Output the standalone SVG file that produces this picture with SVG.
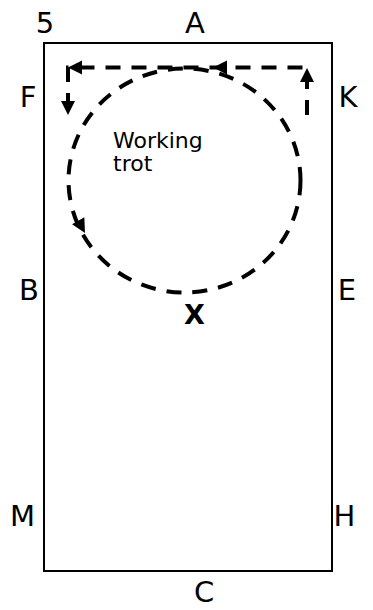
<svg xmlns="http://www.w3.org/2000/svg" xmlns:xlink="http://www.w3.org/1999/xlink" width="373" height="610" viewBox="0 0 373 610">
<style>
.lbl{font-family:"DejaVu Sans","Liberation Sans",sans-serif;font-size:29px;fill:#000;text-anchor:middle}
.x{font-weight:bold;font-size:27px}
.note{font-family:"DejaVu Sans","Liberation Sans",sans-serif;font-size:22px;fill:#000}
.arena{fill:#fff;stroke:#000;stroke-width:2}
.dash{fill:none;stroke:#000;stroke-width:4;stroke-dasharray:15 11}
.ah{fill:#000}
</style>
<defs>
<path id="ah" d="M0,0 L-14,-7 L-14,7 Z"/>
</defs>
<rect width="373" height="610" fill="#fff"/>
<g id="arena">
<rect class="arena" x="44" y="43" width="288" height="528"/>
</g>
<g id="labels">
<text class="lbl" x="45" y="33">5</text>
<text class="lbl" x="195" y="33">A</text>
<text class="lbl" x="28" y="107">F</text>
<text class="lbl" x="348" y="107">K</text>
<text class="lbl" x="29" y="300">B</text>
<text class="lbl" x="347" y="300">E</text>
<text class="lbl x" x="194.5" y="324">X</text>
<text class="lbl" x="22.5" y="526">M</text>
<text class="lbl" x="344.5" y="526">H</text>
<text class="lbl" x="204" y="602">C</text>
</g>
<g id="note">
<text class="note" x="113" y="148">Working</text>
<text class="note" x="113" y="171">trot</text>
</g>
<g id="connectors">
<ellipse class="dash" cx="184.5" cy="180.5" rx="116" ry="112"/>
<path class="dash" d="M307,115 V67.5 H68 V112"/>
<use xlink:href="#ah" class="ah" transform="translate(307,68) rotate(-90)"/>
<use xlink:href="#ah" class="ah" transform="translate(213,67.5) rotate(180)"/>
<use xlink:href="#ah" class="ah" transform="translate(68,67.5) rotate(180)"/>
<use xlink:href="#ah" class="ah" transform="translate(68,115) rotate(90)"/>
<use xlink:href="#ah" class="ah" transform="translate(85,233) rotate(61)"/>
</g>
</svg>
